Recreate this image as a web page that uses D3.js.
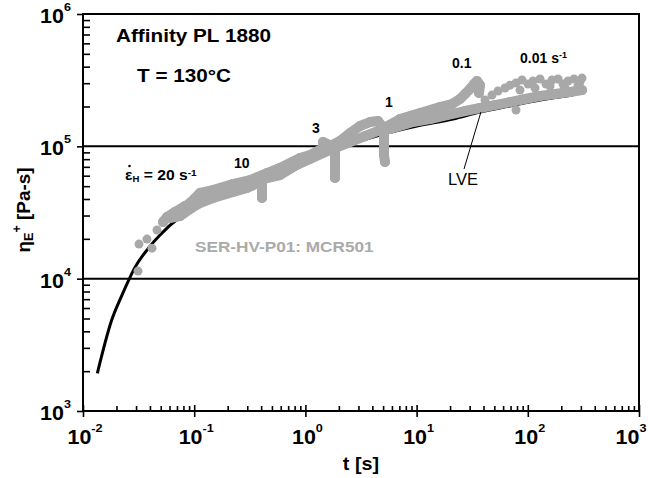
<!DOCTYPE html>
<html>
<head>
<meta charset="utf-8">
<script src="https://cdn.jsdelivr.net/npm/d3@7"></script>
<style>
  body { margin: 0; background: #fff; }
  svg text { font-family: "Liberation Sans", Arial, sans-serif; }
</style>
</head>
<body>
<div id="chart"></div>
<script>
// LVE envelope (black line)
var lveTime = [0.01345, 0.01812, 0.02242, 0.02609, 0.02935, 0.03866, 0.04926, 0.07455, 0.1128, 0.2099, 0.3906, 0.894, 2.047, 4.688, 10.08, 21.25, 37.16, 69.2, 128.8, 255];
var lveEta = [1924, 4866, 7516, 9982, 12170, 16940, 21360, 29220, 36640, 45930, 55640, 72230, 97100, 121700, 142400, 160800, 181700, 201600, 223900, 244200];

// SER-HV-P01 data, one run per Hencky rate (grey)
var rate20Time = [0.05242, 0.05694, 0.0672, 0.08265, 0.1128, 0.1476, 0.1892, 0.2328];
var rate20Eta = [26800, 29200, 31900, 35400, 40000, 44400, 47550, 50100];
var earlyTime = [0.03124, 0.03189, 0.0376, 0.04174, 0.04631];
var earlyEta = [11410, 18260, 19900, 17000, 23300];

var rate10Time = [0.06058, 0.07455, 0.09168, 0.1128, 0.1476, 0.2233, 0.2985, 0.3748, 0.4071, 0.4071, 0.4071];
var rate10Eta = [28700, 29700, 33600, 37300, 40700, 45150, 48400, 52800, 50100, 45150, 40700];

var rate3Time = [0.09168, 0.1128, 0.1476, 0.2233, 0.3176, 0.4514, 0.591, 0.894, 1.1, 1.44, 1.44, 1.664, 1.846, 1.846, 1.846];
var rate3Eta = [37300, 44400, 46700, 51900, 55600, 62800, 68600, 81600, 85900, 97100, 107800, 102300, 93800, 74800, 57600];

var rate1Time = [0.2233, 0.3176, 0.4514, 0.591, 0.894, 1.44, 2.047, 2.518, 3.097, 3.81, 4.497, 4.885, 5.09, 5.09, 5.09, 5.196];
var rate1Eta = [46700, 50100, 57600, 60700, 74800, 93800, 109700, 126000, 142400, 152600, 155300, 142400, 121700, 102300, 85900, 76100];

var rate01Time = [0.4805, 0.7269, 1.1, 1.664, 2.518, 3.436, 4.688, 7.09, 10.73, 16.24, 20.82, 24.57, 27.25, 30.22, 32.82, 34.93, 37.16, 36.4];
var rate01Eta = [59600, 68600, 80200, 93800, 107800, 119600, 132800, 160800, 178500, 198000, 208800, 227800, 248400, 271200, 295800, 311500, 290000, 253000];

var rate001Time = [5.765, 9.28, 13.2, 18.77, 27.25, 37.16, 50.7, 69.2, 94.4, 128.8, 175.6, 239.6, 307.2];
var rate001Eta = [135100, 152600, 160800, 172400, 184900, 194800, 205000, 216000, 227800, 240000, 248400, 257300, 266000];
var upturnTime = [41.2, 47.6, 53.95, 62.4, 69.2, 78.3, 88.7, 100.4, 111.4, 128.8, 145.8, 165.1, 186.9, 207.3, 229.9, 260.3, 294.7, 307.2, 85.1, 116.1, 158.3, 216, 282.8, 78.3];
var upturnEta = [224000, 244000, 261800, 276000, 290000, 301000, 317000, 295800, 311500, 322700, 295800, 317000, 322700, 295800, 311500, 322700, 306000, 328000, 266000, 276000, 285700, 276000, 285700, 188000];

var xMajor = [1e-2, 1e-1, 1e0, 1e1, 1e2, 1e3];
var yMajor = [1e3, 1e4, 1e5, 1e6];

var width = 649, height = 478;
var plot = { left: 83, right: 639, top: 14, bottom: 411 };
var grey = "#a8a8a8";

var svg = d3.select("#chart").append("svg")
  .attr("width", width)
  .attr("height", height);

var x = d3.scaleLog().domain([1e-2, 1e3]).range([plot.left, plot.right]);
var y = d3.scaleLog().domain([1e3, 1e6]).range([plot.bottom, plot.top]);

function minors(d0, d1) {
  var out = [];
  for (var d = d0; d < d1; d++)
    for (var k = 2; k < 10; k++) out.push(k * Math.pow(10, d));
  return out;
}

// text with super/subscripts, optionally stretched sideways
function richText(px, py, parts, size, opts) {
  opts = opts || {};
  var tr = "translate(" + px + "," + py + ")";
  if (opts.rotate) tr += " rotate(" + opts.rotate + ")";
  tr += " scale(" + (opts.sx || 1) + ",1)";
  var t = svg.append("text")
    .attr("transform", tr)
    .attr("font-size", size)
    .attr("font-weight", opts.weight || "bold")
    .attr("fill", opts.color || "#000")
    .attr("text-anchor", opts.anchor || "start");
  var shift = 0;
  parts.forEach(function (p) {
    var s = typeof p === "string" ? { text: p } : p;
    var off = s.dy || 0;
    t.append("tspan")
      .attr("dy", off - shift)
      .attr("font-size", s.size || size)
      .text(s.text);
    shift = off;
  });
  return t;
}

// grid lines at 10^4 and 10^5
svg.append("g").selectAll("line")
  .data([1e4, 1e5])
  .enter().append("line")
    .attr("x1", plot.left).attr("x2", plot.right)
    .attr("y1", d => y(d)).attr("y2", d => y(d))
    .attr("stroke", "#000").attr("stroke-width", 2);

// axes
function styleAxis(g) {
  g.select(".domain").remove();
  g.selectAll(".tick line").attr("stroke", "#000").attr("stroke-width", 1.6);
}
svg.append("g").attr("transform", `translate(0,${plot.bottom})`)
  .call(d3.axisBottom(x).tickValues(xMajor).tickSize(6).tickFormat(""))
  .call(styleAxis);
svg.append("g").attr("transform", `translate(0,${plot.bottom})`)
  .call(d3.axisTop(x).tickValues(xMajor).tickSize(6).tickFormat(""))
  .call(styleAxis);
svg.append("g").attr("transform", `translate(0,${plot.bottom})`)
  .call(d3.axisTop(x).tickValues(minors(-2, 3)).tickSize(5).tickFormat(""))
  .call(styleAxis);
svg.append("g").attr("transform", `translate(${plot.left},0)`)
  .call(d3.axisLeft(y).tickValues(yMajor).tickSize(6).tickFormat(""))
  .call(styleAxis);
svg.append("g").attr("transform", `translate(${plot.left},0)`)
  .call(d3.axisRight(y).tickValues(minors(3, 6)).tickSize(7).tickFormat(""))
  .call(styleAxis);

// tick labels
xMajor.forEach(function (v) {
  richText(Math.min(x(v) + 2, 631), 444,
    ["10", { text: String(Math.round(Math.log10(v))), size: 11.5, dy: -12 }], 19.5,
    { anchor: "middle", sx: 1.1 });
});
yMajor.forEach(function (v) {
  richText(71, y(v) + 9,
    ["10", { text: String(Math.round(Math.log10(v))), size: 11.5, dy: -12 }], 19.5,
    { anchor: "end", sx: 1.1 });
});

// axis titles
richText((plot.left + plot.right) / 2, 470, ["t [s]"], 18, { anchor: "middle", sx: 1.1 });
richText(30, 210, ["\u03b7", { text: "E", size: 12, dy: 3 }, { text: "+", size: 12, dy: -9 }, " [Pa-s]"], 18,
  { anchor: "middle", rotate: -90, sx: 1.05 });

// LVE envelope
var line = d3.line()
  .x(d => x(d[0]))
  .y(d => y(d[1]))
  .curve(d3.curveMonotoneX);

svg.append("path")
  .datum(d3.zip(lveTime, lveEta))
  .attr("d", line)
  .attr("fill", "none")
  .attr("stroke", "#000")
  .attr("stroke-width", 3);

// SER runs
var runs = [
  [rate001Time, rate001Eta],
  [rate01Time, rate01Eta],
  [rate1Time, rate1Eta],
  [rate3Time, rate3Eta],
  [rate10Time, rate10Eta],
  [rate20Time, rate20Eta]
];
var serLine = d3.line().x(d => x(d[0])).y(d => y(d[1]));

runs.forEach(function (r) {
  var pts = d3.zip(r[0], r[1]);
  svg.append("path")
    .datum(pts)
    .attr("d", serLine)
    .attr("fill", "none")
    .attr("stroke", grey)
    .attr("stroke-width", 10)
    .attr("stroke-linejoin", "round")
    .attr("stroke-linecap", "round");
  svg.append("g").selectAll("circle")
    .data(pts)
    .enter().append("circle")
      .attr("cx", d => x(d[0]))
      .attr("cy", d => y(d[1]))
      .attr("r", 5)
      .attr("fill", grey);
});

svg.append("g").selectAll("circle")
  .data(d3.zip(earlyTime, earlyEta).concat(d3.zip(upturnTime, upturnEta)))
  .enter().append("circle")
    .attr("cx", d => x(d[0]))
    .attr("cy", d => y(d[1]))
    .attr("r", 4.5)
    .attr("fill", grey);

// frame
svg.append("rect")
  .attr("x", plot.left).attr("y", plot.top)
  .attr("width", plot.right - plot.left).attr("height", plot.bottom - plot.top)
  .attr("fill", "none")
  .attr("stroke", "#000")
  .attr("stroke-width", 2);

// annotations
richText(116, 42, ["Affinity PL 1880"], 18.5, { sx: 1.12 });
richText(137, 82, ["T = 130\u00b0C"], 18.5, { sx: 1.12 });
richText(125, 180, ["\u03b5", { text: "H", size: 8.5, dy: 2 }, " = 20 s", { text: "-1", size: 9, dy: -4 }], 14, { sx: 1.12 });
svg.append("circle").attr("cx", 129.5).attr("cy", 166).attr("r", 1.3).attr("fill", "#000");
richText(234, 168, ["10"], 14);
richText(312, 133, ["3"], 14);
richText(385, 107, ["1"], 14);
richText(452, 68, ["0.1"], 14);
richText(520, 63, ["0.01 s", { text: "-1", size: 9, dy: -5 }], 14);
richText(195, 252, ["SER-HV-P01: MCR501"], 15.5, { sx: 1.11, color: "#aaaaaa" });

richText(448, 185, ["LVE"], 16.5, { weight: "normal" });
svg.append("line")
  .attr("x1", 464).attr("y1", 169)
  .attr("x2", x(37.9)).attr("y2", y(181700))
  .attr("stroke", "#000").attr("stroke-width", 1);
</script>
</body>
</html>
